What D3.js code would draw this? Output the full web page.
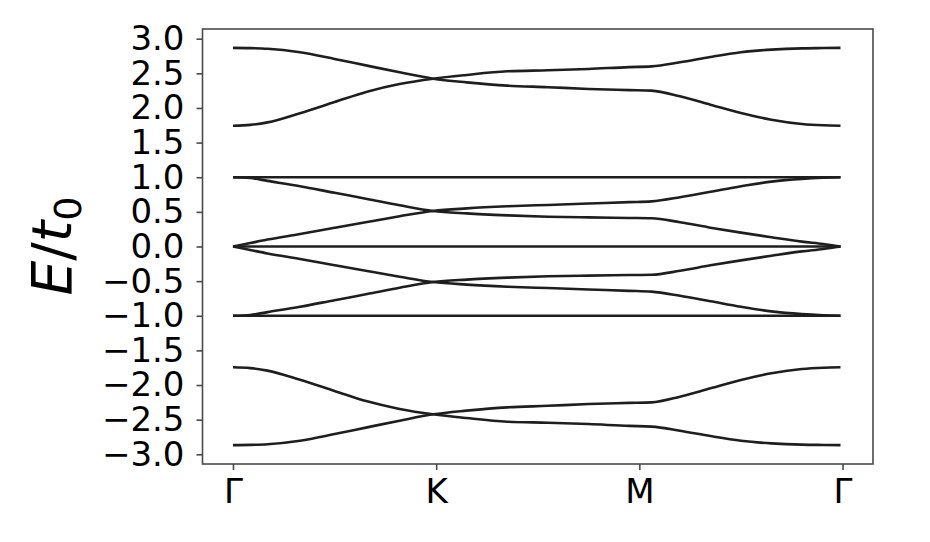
<!DOCTYPE html>
<html>
<head>
<meta charset="utf-8">
<script src="https://cdn.jsdelivr.net/npm/d3@7"></script>
<style>
  body { margin: 0; background: #fff; }
  svg text { font-family: "DejaVu Sans", sans-serif; fill: #000; }
</style>
</head>
<body>
<svg id="chart"></svg>
<script>
// path coordinate of each sample (Γ=0, K=1, M=2, Γ=3)
const kPoints = [0, 0.085, 0.17, 0.33, 0.5, 0.66, 0.82, 0.985, 1.15, 1.35, 1.55, 1.75, 1.95, 2.06, 2.2, 2.35, 2.5, 2.65, 2.8, 2.905, 2.99];

// dispersive bands
const band1 = [2.867, 2.864, 2.855, 2.804, 2.708, 2.611, 2.515, 2.423, 2.37, 2.322, 2.3, 2.274, 2.258, 2.25, 2.168, 2.048, 1.928, 1.831, 1.769, 1.75, 1.744];
const band2 = [1.744, 1.756, 1.792, 1.925, 2.085, 2.235, 2.345, 2.423, 2.477, 2.529, 2.544, 2.563, 2.59, 2.6, 2.659, 2.737, 2.804, 2.842, 2.861, 2.865, 2.867];
const band3 = [1.0, 0.988, 0.947, 0.87, 0.775, 0.687, 0.596, 0.513, 0.478, 0.45, 0.43, 0.42, 0.412, 0.408, 0.35, 0.272, 0.2, 0.133, 0.07, 0.035, 0.0];
const band4 = [0.0, 0.05, 0.1, 0.18, 0.27, 0.354, 0.436, 0.513, 0.55, 0.58, 0.6, 0.62, 0.64, 0.652, 0.711, 0.79, 0.87, 0.937, 0.976, 0.992, 1.0];
const band5 = [0.0, -0.05, -0.1, -0.18, -0.27, -0.354, -0.436, -0.513, -0.55, -0.58, -0.6, -0.62, -0.64, -0.652, -0.711, -0.79, -0.87, -0.937, -0.976, -0.992, -1.0];
const band6 = [-1.0, -0.988, -0.947, -0.87, -0.775, -0.687, -0.596, -0.513, -0.478, -0.45, -0.43, -0.42, -0.412, -0.408, -0.35, -0.272, -0.2, -0.133, -0.07, -0.035, 0.0];
const band7 = [-1.744, -1.756, -1.792, -1.925, -2.085, -2.235, -2.345, -2.423, -2.477, -2.529, -2.544, -2.563, -2.59, -2.6, -2.659, -2.737, -2.804, -2.842, -2.861, -2.865, -2.867];
const band8 = [-2.867, -2.864, -2.855, -2.804, -2.708, -2.611, -2.515, -2.423, -2.37, -2.322, -2.3, -2.274, -2.258, -2.25, -2.168, -2.048, -1.928, -1.831, -1.769, -1.75, -1.744];

// flat bands
const flatK = [0, 2.99];
const flatLevels = [1.0, 0.0, -1.0];

const xTickValues = [0, 1, 2, 3];
const xTickLabels = ["Γ", "K", "M", "Γ"];
const yTickValues = [-3.0, -2.5, -2.0, -1.5, -1.0, -0.5, 0.0, 0.5, 1.0, 1.5, 2.0, 2.5, 3.0];

const width = 930;
const height = 542;
const plot = {left: 202.5, right: 873, top: 29, bottom: 464};

const x = d3.scaleLinear()
    .domain([-0.15, 3.15])
    .range([plot.left, plot.right]);

const y = d3.scaleLinear()
    .domain([-3.14, 3.14])
    .range([plot.bottom, plot.top]);

const svg = d3.select("#chart")
    .attr("width", width)
    .attr("height", height);

svg.append("rect")
    .attr("width", width)
    .attr("height", height)
    .attr("fill", "#fff");

const line = d3.line()
    .x(d => x(d[0]))
    .y(d => y(d[1]))
    .curve(d3.curveMonotoneX);

const bands = [band1, band2, band3, band4, band5, band6, band7, band8]
    .map(b => kPoints.map((k, i) => [k, b[i]]));
flatLevels.forEach(e => bands.push(flatK.map(k => [k, e])));

svg.append("g")
  .selectAll("path")
  .data(bands)
  .enter().append("path")
    .attr("d", line)
    .attr("fill", "none")
    .attr("stroke", "#1e1e1e")
    .attr("stroke-width", 2.6);

// frame
svg.append("rect")
    .attr("x", plot.left)
    .attr("y", plot.top)
    .attr("width", plot.right - plot.left)
    .attr("height", plot.bottom - plot.top)
    .attr("fill", "none")
    .attr("stroke", "#4a4a4a")
    .attr("stroke-width", 1.6);

// axes
const yAxis = svg.append("g")
    .attr("transform", `translate(${plot.left}, 0)`)
    .call(d3.axisLeft(y)
      .tickValues(yTickValues)
      .tickFormat(d3.format(".1f"))
      .tickSize(6)
      .tickPadding(12));

const xAxis = svg.append("g")
    .attr("transform", `translate(0, ${plot.bottom})`)
    .call(d3.axisBottom(x)
      .tickValues(xTickValues)
      .tickFormat((d, i) => xTickLabels[i])
      .tickSize(6)
      .tickPadding(9));

[xAxis, yAxis].forEach(a => {
  a.select(".domain").remove();
  a.selectAll(".tick line").attr("stroke", "#4a4a4a").attr("stroke-width", 1.6);
  a.selectAll(".tick text").attr("font-size", 34).attr("font-family", "DejaVu Sans").attr("fill", "#000");
});

// y label
const label = svg.append("text")
    .attr("transform", "translate(71, 246) rotate(-90)")
    .attr("text-anchor", "middle")
    .attr("font-size", 55);
label.append("tspan").attr("font-style", "italic").text("E");
label.append("tspan").text("/");
label.append("tspan").attr("font-style", "italic").text("t");
label.append("tspan").attr("font-size", 38).attr("dy", 10).text("0");
</script>
</body>
</html>
